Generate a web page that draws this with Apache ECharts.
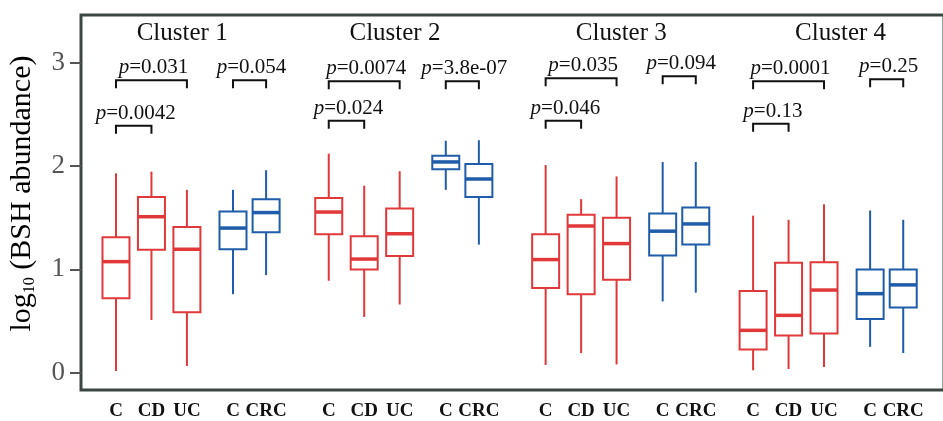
<!DOCTYPE html>
<html>
<head>
<meta charset="utf-8">
<script src="https://cdn.jsdelivr.net/npm/echarts@6/dist/echarts.min.js"></script>
<style>html,body{margin:0;padding:0;background:#fff}#c{width:943px;height:421px}</style>
</head>
<body>
<div id="c"></div>
<script>
// ---------- data ----------
const clusterNames = ['Cluster 1', 'Cluster 2', 'Cluster 3', 'Cluster 4'];
const groupNames = ['C', 'CD', 'UC', 'C', 'CRC'];
const yTicks = [0, 1, 2, 3];
// each box: [min, Q1, median, Q3, max]  (log10 BSH abundance)
const cluster1 = [
  [0.016, 0.72, 1.075, 1.31, 1.93],
  [0.51, 1.19, 1.51, 1.70, 1.946],
  [0.065, 0.585, 1.195, 1.41, 1.77],
  [0.76, 1.195, 1.40, 1.56, 1.77],
  [0.945, 1.36, 1.55, 1.68, 1.96]
];
const cluster2 = [
  [0.89, 1.34, 1.555, 1.69, 2.12],
  [0.54, 1.00, 1.10, 1.32, 1.81],
  [0.66, 1.13, 1.345, 1.59, 1.95],
  [1.77, 1.97, 2.04, 2.10, 2.245],
  [1.24, 1.70, 1.875, 2.02, 2.25]
];
const cluster3 = [
  [0.075, 0.82, 1.095, 1.34, 2.01],
  [0.19, 0.76, 1.42, 1.53, 1.68],
  [0.08, 0.90, 1.25, 1.50, 1.90],
  [0.69, 1.135, 1.37, 1.54, 2.04],
  [0.775, 1.24, 1.44, 1.60, 2.04]
];
const cluster4 = [
  [0.023, 0.225, 0.41, 0.79, 1.52],
  [0.036, 0.36, 0.555, 1.065, 1.48],
  [0.055, 0.38, 0.80, 1.07, 1.63],
  [0.25, 0.52, 0.765, 1.00, 1.57],
  [0.19, 0.63, 0.85, 1.00, 1.48]
];
// comparisons: [fromGroup, toGroup, p-value text, bracket level]
const tests1 = [[0, 1, '0.0042', 2.39], [0, 2, '0.031', 2.83], [3, 4, '0.054', 2.83]];
const tests2 = [[0, 1, '0.024', 2.44], [0, 2, '0.0074', 2.82], [3, 4, '3.8e-07', 2.82]];
const tests3 = [[0, 1, '0.046', 2.44], [0, 2, '0.035', 2.85], [3, 4, '0.094', 2.87]];
const tests4 = [[0, 1, '0.13', 2.41], [0, 2, '0.0001', 2.82], [3, 4, '0.25', 2.84]];

// ---------- layout (axis units) ----------
const clusterStart = [0, 18, 36.35, 53.9];
const groupOffset = [0, 3, 6, 9.9, 12.7];
const titleOffset = [5.6, 5.6, 6.4, 7.4];
const titleLevel = 3.28;

const RED = '#e1383a', BLUE = '#1f5ca9';
const SERIF = 'Liberation Serif, Times New Roman, serif';

const allClusters = [cluster1, cluster2, cluster3, cluster4];
const allTests = [tests1, tests2, tests3, tests4];

const boxData = [], labelData = [], bracketData = [], titleData = [];
allClusters.forEach((cl, k) => {
  cl.forEach((s, g) => {
    const x = clusterStart[k] + groupOffset[g];
    boxData.push([x, s[0], s[1], s[2], s[3], s[4], g >= 3 ? 1 : 0]);
    labelData.push([x, g]);
  });
  allTests[k].forEach(t => {
    bracketData.push([clusterStart[k] + groupOffset[t[0]], clusterStart[k] + groupOffset[t[1]], t[3], t[2]]);
  });
  titleData.push([clusterStart[k] + titleOffset[k], titleLevel, k]);
});

const Y_MIN = -0.1675, Y_MAX = 3.4625;
const chart = echarts.init(document.getElementById('c'), null, {renderer: 'canvas'});
chart.setOption({
  animation: false,
  grid: {left: 81, top: 15, width: 863, height: 375, show: true, borderColor: '#3c4643', borderWidth: 3, backgroundColor: 'transparent', outerBoundsMode: 'none'},
  xAxis: {type: 'value', min: -2.96, max: 70.05, show: false},
  yAxis: {
    type: 'value', min: Y_MIN, max: Y_MAX,
    splitLine: {show: false},
    axisLine: {show: false, onZero: false},
    axisTick: {show: true, length: 11, customValues: yTicks, lineStyle: {color: '#555', width: 2}},
    axisLabel: {customValues: yTicks, fontSize: 27, fontFamily: SERIF, color: '#555', margin: 16},
    name: '{a|log}{s|10}{a| (BSH abundance)}',
    nameLocation: 'middle', nameGap: 43,
    nameTextStyle: {
      padding: [0, 0, 0, 18],
      rich: {
        a: {fontSize: 30, fontFamily: SERIF, color: '#000'},
        s: {fontSize: 16, fontFamily: SERIF, color: '#000', padding: [15, 0, 0, 0]}
      }
    }
  },
  series: [
    {
      type: 'custom', name: 'boxes', data: boxData,
      encode: {x: 0, y: [1, 2, 3, 4, 5]},
      renderItem: function (params, api) {
        const x = api.value(0);
        const pMin = api.coord([x, api.value(1)]);
        const pQ1 = api.coord([x, api.value(2)]);
        const pMed = api.coord([x, api.value(3)]);
        const pQ3 = api.coord([x, api.value(4)]);
        const pMax = api.coord([x, api.value(5)]);
        const color = api.value(6) ? BLUE : RED;
        const cx = pMed[0], hw = 13.5;
        return {type: 'group', children: [
          {type: 'line', shape: {x1: cx, y1: pMax[1], x2: cx, y2: pQ3[1]}, style: {stroke: color, lineWidth: 2}},
          {type: 'line', shape: {x1: cx, y1: pQ1[1], x2: cx, y2: pMin[1]}, style: {stroke: color, lineWidth: 2}},
          {type: 'rect', shape: {x: cx - hw, y: pQ3[1], width: 2 * hw, height: pQ1[1] - pQ3[1]}, style: {fill: '#fff', stroke: color, lineWidth: 2}},
          {type: 'line', shape: {x1: cx - hw, y1: pMed[1], x2: cx + hw, y2: pMed[1]}, style: {stroke: color, lineWidth: 3.5}}
        ]};
      }
    },
    {
      type: 'custom', name: 'brackets', data: bracketData,
      encode: {x: [0, 1], y: 2},
      renderItem: function (params, api) {
        const item = bracketData[params.dataIndex];
        const p1 = api.coord([item[0], item[2]]);
        const p2 = api.coord([item[1], item[2]]);
        const leg = 8;
        return {type: 'group', children: [
          {type: 'polyline', shape: {points: [[p1[0], p1[1] + leg], [p1[0], p1[1]], [p2[0], p1[1]], [p2[0], p1[1] + leg]]}, style: {stroke: '#111', lineWidth: 2, fill: null}},
          {type: 'text', x: (p1[0] + p2[0]) / 2 + 2, y: p1[1] - 12.5, style: {
            text: '{i|p}{n|=' + item[3] + '}', align: 'center', verticalAlign: 'middle',
            rich: {
              i: {fontSize: 21, fontFamily: SERIF, fontStyle: 'italic', fill: '#111'},
              n: {fontSize: 21, fontFamily: SERIF, fill: '#111'}
            }
          }}
        ]};
      }
    },
    {
      type: 'custom', name: 'titles', data: titleData,
      encode: {x: 0, y: 1},
      renderItem: function (params, api) {
        const p = api.coord([api.value(0), api.value(1)]);
        return {type: 'text', x: p[0], y: p[1], style: {text: clusterNames[api.value(2)], align: 'center', verticalAlign: 'middle', fontSize: 25, fontFamily: SERIF, fill: '#111'}};
      }
    },
    {
      type: 'custom', name: 'xlabels', data: labelData,
      encode: {x: 0},
      renderItem: function (params, api) {
        const p = api.coord([api.value(0), Y_MIN]);
        return {type: 'text', x: p[0], y: p[1] + 21.5, style: {text: groupNames[api.value(1)], align: 'center', verticalAlign: 'middle', fontSize: 19, fontWeight: 'bold', fontFamily: SERIF, fill: '#111'}};
      }
    }
  ]
});
</script>
</body>
</html>
